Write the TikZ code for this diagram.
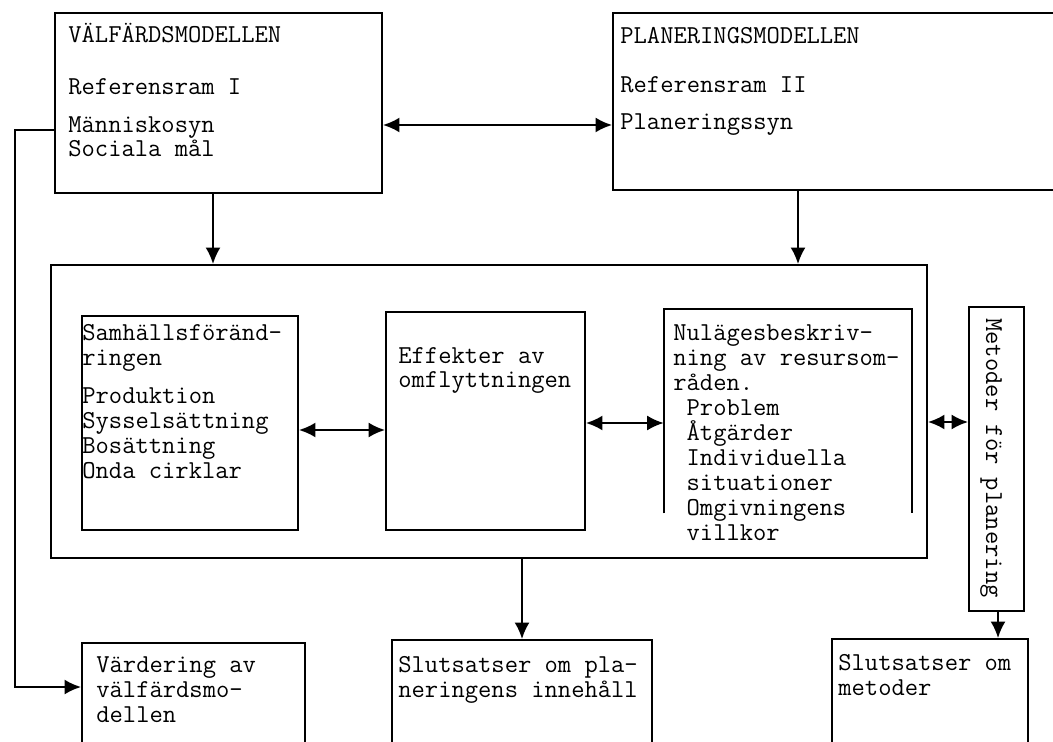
\documentclass[tikz,border=0pt]{standalone}
\usepackage{fontspec}
\usepackage{tikz}
\usetikzlibrary{arrows.meta,calc,positioning,fit}
\newcommand{\typ}{\ttfamily\fontsize{14.7}{14.2}\selectfont}

\begin{document}
\begin{tikzpicture}[x=0.02cm,y=-0.02cm,
  frame/.style={draw,line width=1.1pt,inner sep=0pt},
  lbl/.style={anchor=base west,inner sep=0pt,align=left,font=\typ},
  arr/.style={line width=1.1pt,-{Latex[length=3.3mm,width=3mm]}},
  darr/.style={line width=1.1pt,{Latex[length=3.3mm,width=3mm]}-{Latex[length=3.3mm,width=3mm]}}]
\useasboundingbox (0,0) rectangle (1053,742);
\node[frame,fit={(55,13) (382,193)}] (V) {};
\node[frame,fit={(613,13) (1065,190)}] (P) {};
\node[frame,fit={(51,265) (927,558)}] (O) {};
\node[frame,fit={(82,316) (298,530)}] (S1) {};
\node[frame,fit={(386,312) (585,530)}] (S2) {};
\node[inner sep=0pt,fit={(664,309) (912,513)}] (S3) {};
\draw[line width=1.1pt] (S3.south west) -- (S3.north west) -- (S3.north east) -- (S3.south east);
\node[frame,fit={(969,307) (1024,611)}] (M) {};
\node[frame,fit={(82,643) (305,745)}] (B1) {};
\node[frame,fit={(392,640) (652,745)}] (B2) {};
\node[frame,fit={(832,639) (1028,745)}] (B3) {};
\node[lbl] (vt) at (68,157) {VÄLFÄRDSMODELLEN\\[0.54cm]Referensram I\\[0.26cm]Människosyn\\Sociala mål};
\node[lbl] (pt) at (620,130) {PLANERINGSMODELLEN\\[0.48cm]Referensram II\\[0.26cm]Planeringssyn};
\node[lbl] (s1t) at (82,478) {Samhällsföränd-\\ringen\\[0.26cm]Produktion\\Sysselsättning\\Bosättning\\Onda cirklar};
\node[lbl] (s2t) at (398,388) {Effekter av\\omflyttningen};
\node[lbl] (s3t) at (673,540) {Nulägesbeskriv-\\ning av resursom-\\råden.\\~Problem\\~Åtgärder\\~Individuella\\~situationer\\~Omgivningens\\~villkor};
\node[font=\typ,inner sep=0pt,rotate=-90] (mt) at (991,458) {Metoder för planering};
\node[lbl] (b1t) at (96,722) {Värdering av\\välfärdsmo-\\dellen};
\node[lbl] (b2t) at (398,697) {Slutsatser om pla-\\neringens innehåll};
\node[lbl] (b3t) at (838,695) {Slutsatser om\\metoder};
\coordinate (h0) at (0,125);
\coordinate (h1) at (15,130);
\coordinate (h2) at (0,430);
\coordinate (h3) at (0,423);
\coordinate (h4) at (0,422);
\coordinate (h5) at (0,687);
\coordinate (vd) at (213,0);
\coordinate (pd) at (798,0);
\coordinate (md) at (998,0);
\draw[darr] (V.east |- h0) -- (P.west |- h0);
\draw[arr] (V.south -| vd) -- (O.north -| vd);
\draw[arr] (P.south -| pd) -- (O.north -| pd);
\draw[arr] (V.west |- h1) -- (h1) |- (B1.west |- h5);
\draw[darr] (S1.east |- h2) -- (S2.west |- h2);
\draw[darr] (S2.east |- h3) -- (S3.west |- h3);
\draw[darr] (O.east |- h4) -- (M.west |- h4);
\draw[arr] (O.south -| B2.north) -- (B2.north);
\draw[arr] (M.south -| md) -- (B3.north -| md);
\end{tikzpicture}
\end{document}
